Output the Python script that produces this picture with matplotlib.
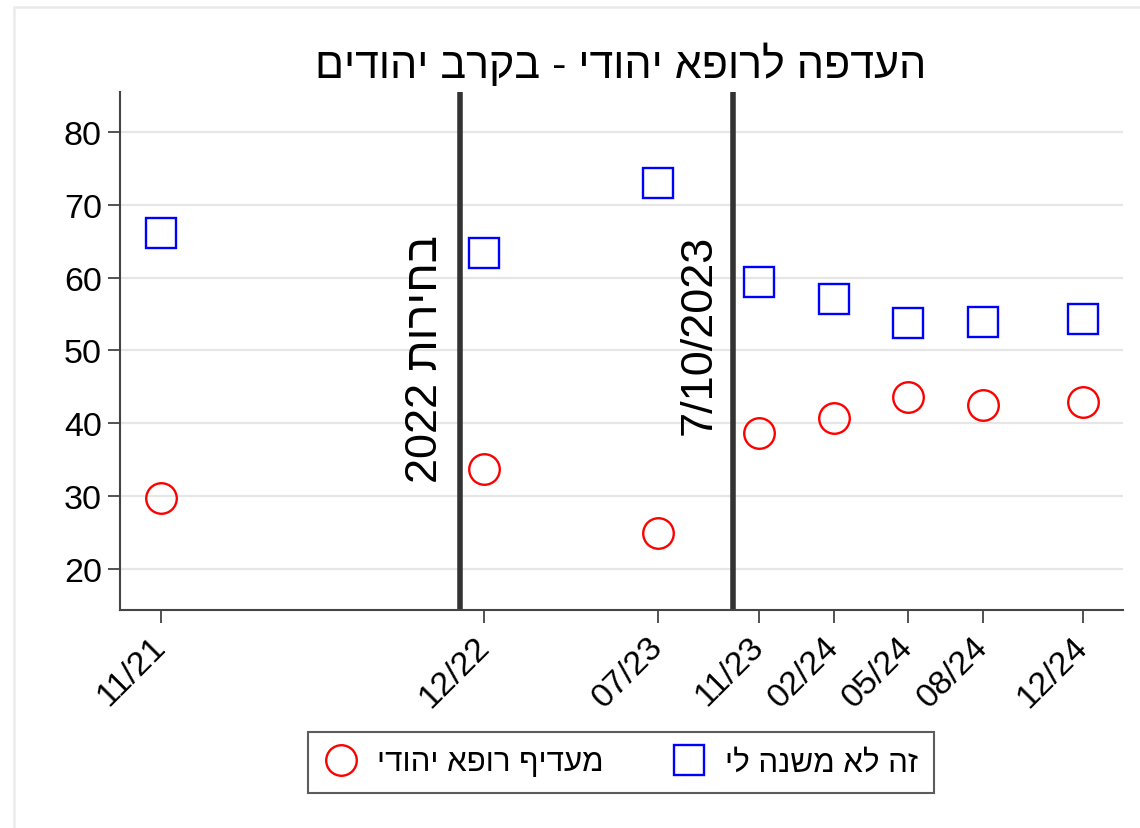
import warnings; warnings.filterwarnings("ignore")
import numpy as np, pandas as pd, matplotlib; matplotlib.use("Agg"); import matplotlib.pyplot as plt
from matplotlib.patches import Rectangle
plt.rcParams.update({"font.family":["Liberation Sans","DejaVu Sans"],"font.size":24.5})

def heb(s): return s[::-1]  # matplotlib has no bidi: write Hebrew in visual order

waves=["11/21","12/22","07/23","11/23","02/24","05/24","08/24","12/24"]
no_matter=[66.1,63.4,73.0,59.4,57.1,53.8,53.9,54.3]
prefer_jew=[29.7,33.7,24.9,38.7,40.7,43.6,42.5,42.9]
events=[("2022-11-01","2022 "+heb("בחירות")),("2023-10-01","7/10/2023")]
title="העדפה לרופא יהודי - בקרב יהודים"
lab_prefer="מעדיף רופא יהודי"
lab_nomatter="זה לא משנה לי"

x=pd.to_datetime(waves,format="%m/%y")
fig=plt.figure(figsize=(11.4,8.29),dpi=100)
ax=fig.add_axes([120/1140,1-611/829,(1123-120)/1140,(611-93)/829])
# light outer frame like the Stata graph region
fig.patches.append(Rectangle((14/1140,-0.1),1.2,1-8/829+0.1,transform=fig.transFigure,fill=False,ec="#ebebeb",lw=1.8))

for y in range(20,90,10):
    ax.axhline(y,color="#e6e6e6",lw=1.6,zorder=0)
for d,lab in events:
    dx=pd.Timestamp(d)
    ax.axvline(dx,color="#333333",lw=4,zorder=1)
    ax.text(dx-pd.Timedelta(days=17),66,lab,rotation=90,ha="right",va="top",fontsize=32.5)

ax.plot(x,prefer_jew,"o",ms=22,mfc="none",mec="#ff0000",mew=1.7,ls="none",label=heb(lab_prefer),zorder=3)
ax.plot(x,no_matter,"s",ms=21,mfc="none",mec="#0000ff",mew=1.7,ls="none",label=heb(lab_nomatter),zorder=3)

ax.set_xlim(pd.Timestamp("2021-09-12"),pd.Timestamp("2025-01-19"))
ax.set_ylim(14.37,85.49)
ax.set_yticks(range(20,90,10))
ax.set_xticks(x)
ax.set_xticklabels(waves,rotation=45,ha="right",va="center",rotation_mode="anchor")
for s in ["top","right"]: ax.spines[s].set_visible(False)
for s in ["left","bottom"]:
    ax.spines[s].set_color("#444444"); ax.spines[s].set_linewidth(1.5)
ax.tick_params(length=9,width=1.3,color="#444444",pad=4)
ax.tick_params(axis="x",pad=14)

fig.text(621/1140,1-65/829,heb(title),ha="center",va="center",fontsize=31)
h,l=ax.get_legend_handles_labels()
leg=fig.legend(h,l,loc="center",bbox_to_anchor=(621/1140,1-763.5/829),ncol=2,fancybox=False,
               edgecolor="#333333",fontsize=22.5,columnspacing=2.2,handletextpad=0.6,borderpad=0.5,handlelength=1.1,markerscale=1.0)
leg.get_frame().set_linewidth(1.5)
fig.savefig("out.png",dpi=100)
